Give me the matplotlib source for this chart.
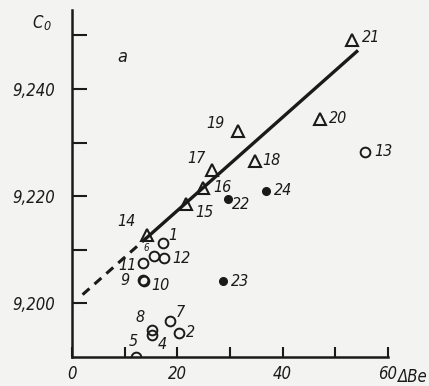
import numpy as np
import matplotlib
matplotlib.use('Agg')
from matplotlib import pyplot as plt

# triangles (open)
tri_lbl = ['14', '15', '16', '17', '18', '19', '20', '21']
tri_x = [14.2, 21.6, 24.9, 26.6, 34.7, 31.5, 47.2, 53.1]
tri_y = [9.2128, 9.2186, 9.2216, 9.2249, 9.2266, 9.2322, 9.2344, 9.2491]

# open circles
oc_lbl = ['1', '6', '12', '11', '9', '10', '13', '7', '2', '8', '4', '5']
oc_x = [17.3, 15.5, 17.5, 13.5, 13.5, 13.6, 55.6, 18.6, 20.3, 15.2, 15.2, 12.2]
oc_y = [9.2112, 9.2089, 9.2084, 9.2076, 9.2044, 9.2041, 9.2283, 9.1968, 9.1944,
        9.1951, 9.1942, 9.1900]

# filled circles
fc_lbl = ['22', '23', '24']
fc_x = [29.6, 28.7, 36.8]
fc_y = [9.2195, 9.2041, 9.2210]

# fitted line C0 = a + b*dBe
fit_a = 9.1999
fit_b = 0.00087

# label offsets in pixels (dx, dy)
tri_off = [(-20, 13), (19, -9), (19, 0), (-16, 11), (17, 0), (-22, 7), (18, 0), (20, 3)]
oc_off = [(10, 8), (-7, 8), (17, 0), (-16, -3), (-18, -1), (17, -4), (19, 0),
          (10, 8), (12, 1), (-12, 12), (10, -10), (-3, 16)]
fc_off = [(13, -6), (17, 0), (17, 0)]

ink = '#1a1a1a'
plt.rcParams['font.family'] = ['DejaVu Sans']
plt.rcParams['font.style'] = 'italic'
plt.rcParams['font.stretch'] = 'condensed'

fig = plt.figure(figsize=(4.29, 3.86), dpi=100, facecolor='#f3f3f1')
ax = fig.add_axes([0.168, 0.075, 0.736, 0.899])
ax.set_facecolor('none')

xl = np.linspace(2, 14, 10)
ax.plot(xl, fit_a + fit_b * xl, color=ink, lw=2.2, ls=(0, (3, 2.2)))
xs = np.array([14, 54.1])
ax.plot(xs, fit_a + fit_b * xs, color=ink, lw=2.4)

ax.plot(tri_x, tri_y, '^', ms=9, mfc='none', mec=ink, mew=1.5)
ax.plot(oc_x, oc_y, 'o', ms=7, mfc='none', mec=ink, mew=1.4)
ax.plot(fc_x, fc_y, 'o', ms=5.5, color=ink)

for lbls, xx, yy, offs in [(tri_lbl, tri_x, tri_y, tri_off),
                           (oc_lbl, oc_x, oc_y, oc_off),
                           (fc_lbl, fc_x, fc_y, fc_off)]:
    for l, x, y, o in zip(lbls, xx, yy, offs):
        fs = 7 if l == '6' else 11.5
        ax.annotate(l, (x, y), xytext=o, textcoords='offset pixels',
                    ha='center', va='center', fontsize=fs, color=ink)

ax.set_xlim(0, 60)
ax.set_ylim(9.190, 9.2547)
ax.set_xticks(np.arange(0, 61, 10))
ax.set_xticklabels(['0', '', '20', '', '40', '', '60'])
ax.set_yticks(np.arange(9.20, 9.2501, 0.01))
ax.set_yticklabels(['9,200', '', '9,220', '', '9,240', ''])
ax.tick_params(axis='y', direction='in', length=10.5, width=1.5, pad=12,
               labelsize=12, colors=ink)
ax.tick_params(axis='x', direction='in', length=7, width=1.5, pad=6,
               labelsize=12, colors=ink)
for s in ['top', 'right']:
    ax.spines[s].set_visible(False)
for s in ['left', 'bottom']:
    ax.spines[s].set_linewidth(1.8)
    ax.spines[s].set_color(ink)

fig.text(38 / 429, 1 - 23 / 386, 'C', fontsize=12, ha='center', va='center', color=ink)
fig.text(47 / 429, 1 - 27 / 386, '0', fontsize=9, ha='center', va='center', color=ink)
fig.text(122 / 429, 1 - 57 / 386, 'a', fontsize=13, ha='center', va='center', color=ink)
fig.text(413 / 429, 1 - 377 / 386, 'ΔBe', fontsize=12, ha='center', va='center',
         color=ink)

fig.savefig('out.png', dpi=100, facecolor=fig.get_facecolor())
